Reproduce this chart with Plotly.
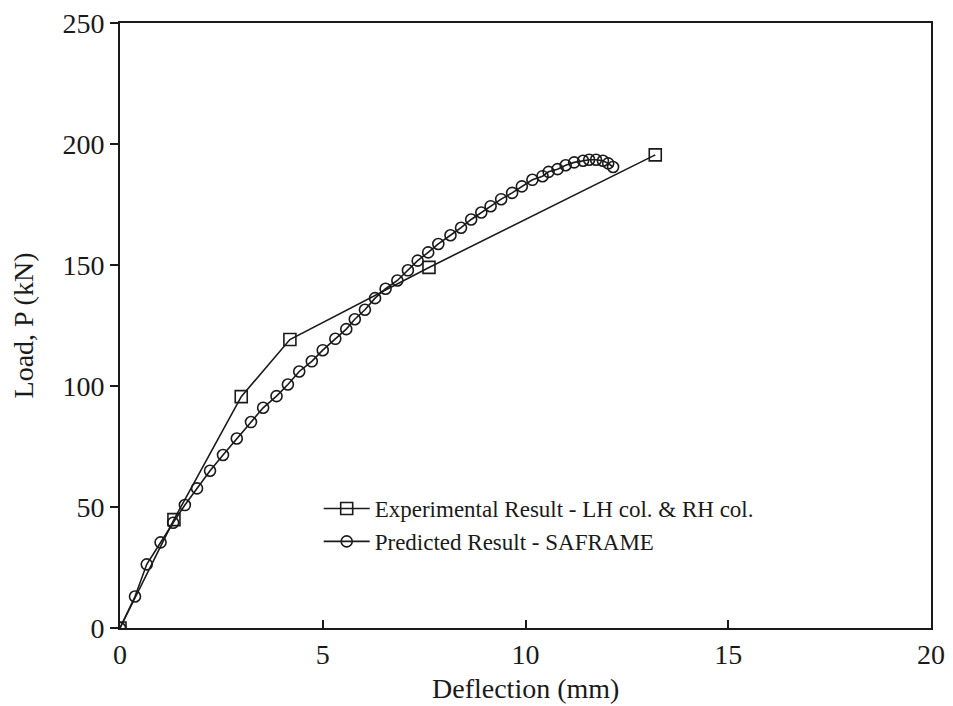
import plotly.graph_objects as go

# Experimental Result - LH col. & RH col.
exp_x = [0, 1.33, 2.99, 4.19, 7.62, 13.2]
exp_y = [0, 44.8, 95.6, 119.2, 149.0, 195.5]

# Predicted Result - SAFRAME
pred_x = [0, 0.37, 0.66, 1.0, 1.31, 1.6, 1.9, 2.22, 2.54, 2.88, 3.23, 3.53, 3.86, 4.14,
          4.42, 4.73, 5.0, 5.31, 5.58, 5.79, 6.04, 6.29, 6.55, 6.84, 7.1, 7.34, 7.6,
          7.85, 8.15, 8.41, 8.66, 8.91, 9.14, 9.4, 9.67, 9.91, 10.17, 10.42, 10.57,
          10.79, 10.99, 11.2, 11.42, 11.57, 11.74, 11.91, 12.04, 12.16]
pred_y = [0, 13, 26.3, 35.4, 43.5, 50.8, 57.7, 65.0, 71.5, 78.3, 85.1, 91.0, 95.8, 100.6,
          106.0, 110.2, 114.8, 119.5, 123.5, 127.6, 131.5, 136.3, 140.2, 143.6, 147.8,
          151.8, 155.2, 158.7, 162.3, 165.4, 168.8, 171.7, 174.3, 177.2, 179.8, 182.5,
          185.2, 186.7, 188.5, 189.6, 191.2, 192.4, 193.1, 193.5, 193.5, 193.1, 192.0, 190.5]

x_ticks = [0, 5, 10, 15, 20]
y_ticks = [0, 50, 100, 150, 200, 250]

fig = go.Figure()
fig.add_trace(go.Scatter(
    x=exp_x, y=exp_y, mode="lines+markers",
    name="Experimental Result - LH col. & RH col.",
    line=dict(color="#1a1a1a", width=1.6),
    marker=dict(symbol="square-open", size=12, color="#1a1a1a", line=dict(width=1.6)),
))
fig.add_trace(go.Scatter(
    x=pred_x, y=pred_y, mode="lines+markers",
    name="Predicted Result - SAFRAME",
    line=dict(color="#1a1a1a", width=1.6),
    marker=dict(symbol="circle-open", size=11, color="#1a1a1a", line=dict(width=1.6)),
))

font_family = "Liberation Serif, Times New Roman, serif"
fig.update_layout(
    width=937, height=698,
    margin=dict(l=112, r=14, t=15, b=78),
    paper_bgcolor="white", plot_bgcolor="white",
    font=dict(family=font_family, color="#1a1a1a", size=28),
    showlegend=True,
    legend=dict(
        x=0.245, y=0.233, xanchor="left", yanchor="top",
        bgcolor="rgba(0,0,0,0)", font=dict(size=23, family=font_family),
        itemwidth=46, tracegroupgap=0,
    ),
    annotations=[dict(
        text="Deflection (mm)", xref="paper", yref="paper",
        x=0.5, y=-0.1, xanchor="center", yanchor="middle",
        showarrow=False, font=dict(size=28, family=font_family, color="#1a1a1a"),
    )],
)
fig.update_xaxes(
    range=[0, 20], tickvals=x_ticks,
    showgrid=False, zeroline=False, automargin=False,
    showline=True, linewidth=2, linecolor="#1a1a1a", mirror=True,
    ticks="inside", ticklen=8, tickwidth=1.5, tickcolor="#1a1a1a",
    ticklabelstandoff=0, ticklabeloverflow="allow",
    tickfont=dict(size=28, family=font_family),
)
fig.update_yaxes(
    range=[0, 250], tickvals=y_ticks,
    showgrid=False, zeroline=False, automargin=False,
    showline=True, linewidth=2, linecolor="#1a1a1a", mirror=True,
    ticks="outside", ticklen=8, tickwidth=1.5, tickcolor="#1a1a1a",
    ticklabeloverflow="allow",
    tickfont=dict(size=28, family=font_family),
    title=dict(text="Load, P (kN)", font=dict(size=28, family=font_family), standoff=22),
)

fig.write_html("out.html")
